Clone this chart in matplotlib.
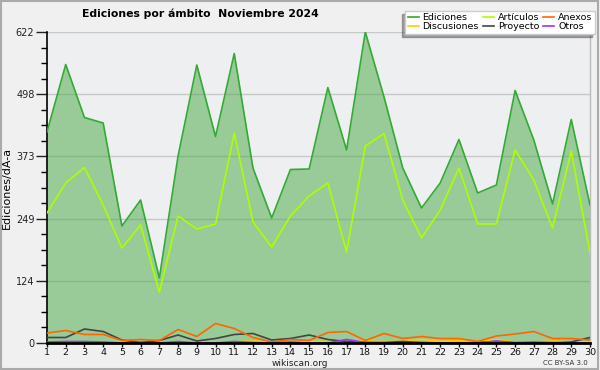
import matplotlib
matplotlib.use("Agg")
import matplotlib.pyplot as plt
from matplotlib.ticker import FixedLocator

days = list(range(1, 31))

ediciones = [422, 557, 451, 440, 234, 286, 130, 374, 556, 413,
             579, 350, 250, 347, 348, 511, 386, 622, 492, 350,
             270, 320, 407, 300, 316, 505, 406, 278, 447, 276]
articulos = [260, 320, 351, 276, 190, 236, 102, 254, 228, 238,
             420, 242, 192, 254, 294, 320, 182, 394, 419, 286,
             210, 266, 350, 238, 238, 386, 326, 230, 384, 180]
anexos = [20, 25, 17, 17, 5, 7, 5, 27, 13, 39,
          29, 11, 2, 7, 5, 21, 23, 5, 19, 9,
          13, 9, 9, 3, 14, 18, 23, 9, 9, 6]
discusiones = [1, 1, 1, 1, 1, 1, 2, 1, 1, 1,
               2, 4, 2, 1, 3, 3, 3, 4, 3, 3,
               7, 3, 5, 3, 7, 2, 2, 4, 2, 3]
proyecto = [11, 11, 28, 23, 6, 1, 5, 16, 4, 9,
            17, 19, 6, 9, 16, 7, 3, 1, 1, 3,
            1, 0, 0, 1, 3, 0, 0, 0, 2, 11]
otros = [2, 3, 3, 2, 0, 1, 0, 3, 0, 0,
         3, 1, 0, 2, 0, 0, 7, 1, 0, 0,
         0, 0, 0, 0, 4, 1, 2, 1, 0, 0]

ymax = 622
yticks = [0, 124, 249, 373, 498, 622]

fig = plt.figure(figsize=(6, 3.7), dpi=100, facecolor="#f0f0f0")
ax = fig.add_axes([47 / 600, 1 - 343 / 370, 543 / 600, 311 / 370])
ax.set_facecolor("#eeeff1")

# grid under the translucent fill
for v in [ymax * i / 5 for i in range(1, 6)]:
    ax.axhline(v, color="#c8c8c8", lw=1, zorder=1)

ax.fill_between(days, ediciones, 0, color="#44a941", alpha=0.5, lw=0, zorder=2)
ax.plot(days, ediciones, color="#33aa33", lw=1.2, zorder=3, label="Ediciones")
ax.plot(days, discusiones, color="#ffcc00", lw=1.2, zorder=3, label="Discusiones")
ax.plot(days, articulos, color="#aaff00", lw=1.2, zorder=4, label="Artículos")
ax.plot(days, proyecto, color="#444444", lw=1.2, zorder=4, label="Proyecto")
ax.plot(days, anexos, color="#ff6600", lw=1.2, zorder=4, label="Anexos")
ax.plot(days, otros, color="#9933ff", lw=1.2, zorder=4, label="Otros")

ax.set_xlim(1, 30)
ax.set_ylim(0, ymax)
ax.set_xticks(days)
ax.set_xticklabels([str(d) for d in days])
ax.yaxis.set_major_locator(FixedLocator([ymax * i / 5 for i in range(6)]))
ax.set_yticklabels([str(t) for t in yticks])
ax.yaxis.set_minor_locator(FixedLocator([ymax * i / 20 for i in range(21)]))
ax.tick_params(axis="y", which="major", length=8, width=1, labelsize=7, pad=1, colors="#222222")
ax.tick_params(axis="y", which="minor", length=4, width=1)
ax.tick_params(axis="x", length=3, width=1, labelsize=6.8, pad=0.5, colors="#111111")

ax.spines["top"].set_visible(False)
ax.spines["right"].set_color("#bbbbbb")
ax.spines["right"].set_linewidth(1)
ax.spines["left"].set_linewidth(1.2)
ax.spines["bottom"].set_linewidth(2)
ax.spines["bottom"].set_zorder(6)

ax.set_ylabel("Ediciones/dÃ-a", fontsize=8)
ax.yaxis.set_label_coords(-35 / 543, 0.5)

fig.text(200 / 600, 1 - 14 / 370, "Ediciones por ámbito  Noviembre 2024",
         ha="center", va="center", fontsize=7.8, fontweight="bold")
fig.text(300 / 600, 1 - 363 / 370, "wikiscan.org", ha="center", va="center",
         fontsize=6.5, color="#222222")
fig.text(588 / 600, 1 - 363 / 370, "CC BY-SA 3.0", ha="right", va="center",
         fontsize=5, color="#333333")

leg = ax.legend(ncol=3, loc="upper right", bbox_to_anchor=(595 / 600, 1 - 11 / 370),
                bbox_transform=fig.transFigure, fontsize=6.8, frameon=True,
                fancybox=False, shadow={"ox": -2, "oy": -2, "color": "#555555"},
                handlelength=1.2, handletextpad=0.4, columnspacing=0.4,
                labelspacing=0.0, borderpad=0.25, borderaxespad=0)
leg.get_frame().set_edgecolor("#cccccc")
leg.get_frame().set_facecolor("white")
leg.get_frame().set_alpha(1)
leg.set_zorder(10)

# outer frame
fig.patches.append(plt.Rectangle((0.001, 0.002), 0.995, 0.994, transform=fig.transFigure,
                                 fill=False, edgecolor="#aaaaaa", lw=1.5))

fig.savefig("out.png", dpi=100, facecolor=fig.get_facecolor())
